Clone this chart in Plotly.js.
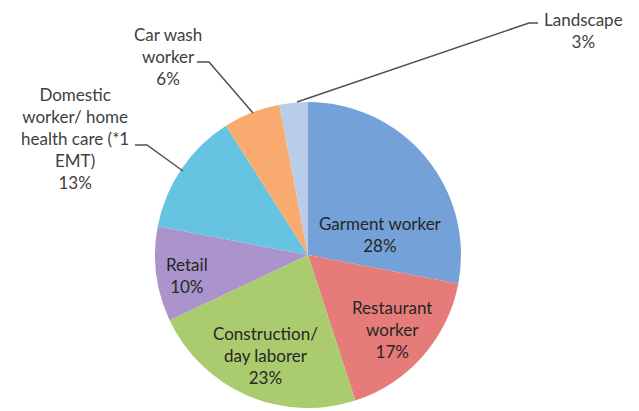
<!DOCTYPE html>
<html>
<head>
<meta charset="utf-8">
<script src="https://cdn.plot.ly/plotly-3.0.1.min.js"></script>
<style>html,body{margin:0;padding:0;background:#fff;}#chart{width:639px;height:411px;}</style>
</head>
<body>
<div id="chart"></div>
<script>
var categories = ["Garment worker", "Restaurant worker", "Construction/ day laborer", "Retail", "Domestic worker/ home health care (*1 EMT)", "Car wash worker", "Landscape"];
var labelLines = ["Garment worker", "Restaurant<br>worker", "Construction/<br>day laborer", "Retail", "Domestic<br>worker/ home<br>health care (*1<br>EMT)", "Car wash<br>worker", "Landscape"];
var values = [28, 17, 23, 10, 13, 6, 3];
var colors = ["#74a1d7", "#e67c7a", "#aacc6f", "#aa94cb", "#66c3e1", "#f8aa6f", "#b8cdea"];
var inside = [true, true, true, true, false, false, false];

// label block centres (pixels) and leader lines
var W = 639, H = 411;
var labelPos = [[381, 234], [392, 329], [265, 355], [187, 275], [75, 138], [168, 57], [583, 30]];
var leaders = {
  4: [[135, 145], [147, 145], [183, 171]],
  5: [[197, 62], [209, 62], [253, 113]],
  6: [[538, 23], [529, 23], [297, 102]]
};

var trace = {
  type: "pie",
  labels: categories,
  values: values,
  textinfo: "none",
  marker: {colors: colors, line: {color: "#ffffff", width: 0}},
  sort: false,
  direction: "clockwise",
  rotation: 0,
  hoverinfo: "none",
  domain: {x: [155 / W, 461 / W], y: [3 / H, 309 / H]},
  showlegend: false
};

var annotations = [];
var shapes = [];
for (var k = 0; k < values.length; k++) {
  var p = labelPos[k];
  annotations.push({
    x: p[0] / W, y: 1 - p[1] / H, xref: "paper", yref: "paper",
    xanchor: "center", yanchor: "middle",
    text: labelLines[k] + "<br>" + values[k] + "%",
    showarrow: false, align: "center",
    font: {family: "Lato, 'Open Sans', sans-serif", size: 17, color: inside[k] ? "#262626" : "#404040"}
  });
  if (leaders[k]) {
    var pts = leaders[k];
    var path = "";
    pts.forEach(function (pt, j) {
      path += (j === 0 ? "M" : "L") + (pt[0] / W) + "," + (1 - pt[1] / H);
    });
    shapes.push({type: "path", xref: "paper", yref: "paper", path: path, line: {color: "#505050", width: 1.5}});
  }
}

var layout = {
  width: W, height: H,
  margin: {l: 0, r: 0, t: 0, b: 0},
  paper_bgcolor: "#ffffff",
  annotations: annotations,
  shapes: shapes
};

Plotly.newPlot("chart", [trace], layout, {staticPlot: true});
</script>
</body>
</html>
